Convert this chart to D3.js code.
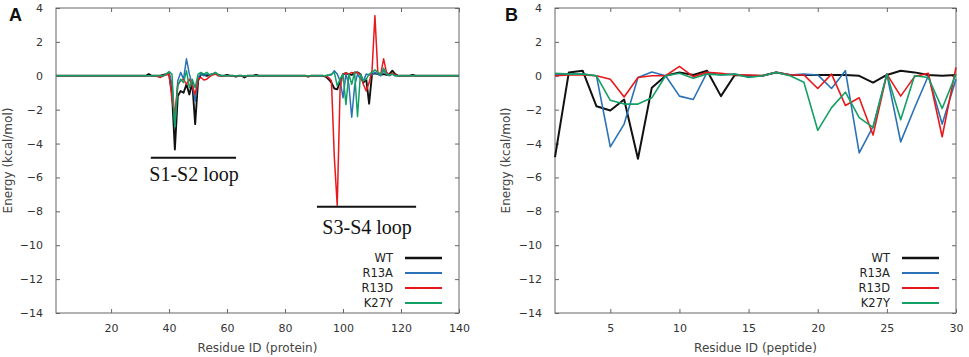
<!DOCTYPE html>
<html>
<head lang="en">
  <meta charset="UTF-8">
  <title>Per-residue energy decomposition</title>
</head>
<style>
  body { margin: 0; background: #fff; }
  svg text { font-family: "DejaVu Sans", sans-serif; }
  .frame { fill: none; stroke: #666; stroke-width: 1; }
  .axis path { display: none; }
  .axis line { stroke: #666; }
  .axis text { fill: #333; font-size: 11px; }
</style>
<body>

<svg id="chart" width="969" height="357"></svg>

<script src="https://cdn.jsdelivr.net/npm/d3@7"></script>
<script>
  // Series names + colours
  var seriesNames  = ['WT', 'R13A', 'R13D', 'K27Y'];
  var seriesColors = ['#111111', '#2a72b5', '#e8191c', '#13a064'];

  // Panel A: protein residues 1..140 (kcal/mol)
  var residuesA = d3.range(1, 141);
  var wtA = [
    0,0,0,0,0,0,0,0,0,0,
    0,0,0,0,0,0,0,0,0,0,
    0,0,0,0,0,0,0,0,0,0,
    0,0,0.1,0,0,0,0,0.05,0.1,0.1,
    -1.0,-4.35,-1.2,-0.9,-1.0,-0.5,-1.1,-0.4,-2.85,-0.3,
    0.1,0.05,0,0.05,0.1,0.15,0.05,0,0,0.05,
    0,0,-0.05,0,0,-0.1,0,0,0,0.05,
    0,0,0,0,0,0,0,0,0,0,
    0,0,0,0,0,0,0,-0.05,0,0,
    0,0,0,-0.05,-0.2,-0.4,-0.75,-0.8,-0.3,0.1,
    0.15,0.1,0.05,0.2,0.2,0.1,-0.4,-0.2,-1.65,0.1,
    0.15,0.1,0.05,0.1,0.05,0.1,0.3,0.1,0,0,
    0,0,0,0.05,0,0,0,0,0,0,
    0,0,0,0,0,0,0,0,0,0
  ];
  var r13aA = [
    0,0,0,0,0,0,0,0,0,0,
    0,0,0,0,0,0,0,0,0,0,
    0,0,0,0,0,0,0,0,0,0,
    0,0,0,0,0,0,0,0,0.1,0.2,
    -0.5,-3.0,-0.3,0.2,-0.2,1.0,0.1,-0.5,-1.5,-0.1,
    0.1,0,0.1,0.05,0.1,0.15,0,0,0,0,
    0,0,0,0,0,0,0,0,0,0,
    0,0,0,0,0,0,0,0,0,0,
    0,0,0,0,0,0,0,0,0,0,
    0,0,0,0,0.05,0.05,0.3,0.1,-0.3,-1.3,
    0.1,-0.5,-2.45,-0.6,0.1,-0.2,-0.3,0.1,0.05,0.05,
    0.2,0.1,0,0.3,0.1,0,0.1,0,0,0,
    0,0,0,0,0,0,0,0,0,0,
    0,0,0,0,0,0,0,0,0,0
  ];
  var r13dA = [
    0,0,0,0,0,0,0,0,0,0,
    0,0,0,0,0,0,0,0,0,0,
    0,0,0,0,0,0,0,0,0,0,
    0,0,0,0,0,-0.05,-0.1,0,0.05,0.1,
    -1.4,-2.3,-0.5,-0.3,-0.2,-0.5,-0.2,-0.6,-1.1,-0.2,
    -0.1,-0.25,-0.2,-0.05,0.05,0.1,0,0,0,0,
    0,0,0,0,0,0,0,0,0,0,
    0,0,0,0,0,0,0,0,0,0,
    0,0,0,0,0,0,0,-0.05,0,0,
    0,0,0,0,-0.1,-0.3,-4.8,-7.65,-0.7,0.1,
    0.15,0.1,0.2,0.15,0.2,0.05,-0.5,-0.9,-0.4,0.3,
    3.55,0.2,0.1,1.0,0.2,0.05,0.15,0.05,0,0,
    0,0,0,0,0,0,0,0,0,0,
    0,0,0,0,0,0,0,0,0,0
  ];
  var k27yA = [
    0,0,0,0,0,0,0,0,0,0,
    0,0,0,0,0,0,0,0,0,0,
    0,0,0,0,0,0,0,0,0,0,
    0,0,0,0,0,0,0,0,0.1,0.25,
    0.1,-3.0,-0.6,-0.2,-0.4,0.3,-0.7,-0.2,-0.7,0.1,
    0.2,0.1,0.2,0.05,0.1,0.2,0.05,0,0,0,
    0,0,0,0,0,0,0,0,0,0,
    0,0,0,0,0,0,0,0,0,0,
    0,0,0,0,0,0,0,0,0,0,
    0,0,0,0,0.05,0.1,0.2,-0.6,-0.2,0.1,
    -1.7,0.1,-0.5,0.2,-2.4,0.1,-0.3,-0.2,0.1,0.2,
    0.35,0.2,0.05,0.45,0.1,0.05,0.1,0,0,0,
    0,0,0,0,0,0,0,0,0,0,
    0,0,0,0,0,0,0,0,0,0
  ];

  // Panel B: peptide residues 1..30
  var residuesB = d3.range(1, 31);
  var wtB   = [-4.8,0.2,0.3,-1.8,-2.05,-1.4,-4.9,-0.7,0,0.2,0.05,0.3,-1.2,0.05,0,0,0.2,0.05,0.05,0.05,0.05,0.05,0,-0.4,0.05,0.3,0.2,0.05,0,0.05];
  var r13aB = [0.1,0.1,0.1,0,-4.2,-2.85,-0.1,0.22,0,-1.2,-1.4,0.2,0.05,0.1,-0.05,0,0.2,0.05,0.1,0.05,-0.75,0.3,-4.55,-3.0,0.1,-3.9,-1.9,0,-2.85,-0.2];
  var r13dB = [0,0.05,0.05,0,-0.2,-1.25,-0.1,0,0,0.55,-0.05,0.2,0.15,0.05,0.05,0,0.2,0.05,0.05,-0.75,0.1,-1.75,-1.3,-3.5,0.1,-1.2,-0.05,0.15,-3.6,0.5];
  var k27yB = [0.15,0.1,0.1,0,-1.45,-1.67,-1.67,-1.3,0,0.15,-0.15,0.1,0.05,0.1,-0.1,0,0.2,0,-0.38,-3.22,-1.88,-0.97,-2.47,-3.05,0.1,-2.6,0,-0.1,-1.93,0.1];

  // Tick values
  var yTicks  = d3.range(-14, 5, 2);
  var xTicksA = [20, 40, 60, 80, 100, 120, 140];
  var xTicksB = [5, 10, 15, 20, 25, 30];

  // Panel A loop annotations (data units)
  var loopLabels = ['S1-S2 loop', 'S3-S4 loop'];
  var loopStart  = [33.7, 91.0];
  var loopEnd    = [63.1, 125.2];
  var loopBarY   = [-4.84, -7.73];
  var loopTextX  = [48.6, 108.3];
  var loopTextY  = [-6.2, -9.35];

  var svg = d3.select('#chart');

  var panels = [
    { tag: 'A', left: 56,  right: 459, xDomain: [1, 140], xTicks: xTicksA,
      residues: residuesA, values: [wtA, r13aA, r13dA, k27yA],
      xLabel: 'Residue ID (protein)', tagX: 9, yLabelX: 8, lw: 1.5 },
    { tag: 'B', left: 555, right: 956, xDomain: [1, 30], xTicks: xTicksB,
      residues: residuesB, values: [wtB, r13aB, r13dB, k27yB],
      xLabel: 'Residue ID (peptide)', tagX: 505, yLabelX: 506, lw: 1.6 }
  ];
  var plotTop = 8, plotBottom = 313;

  panels.forEach(drawPanel);

  function drawPanel(p) {
    var x = d3.scaleLinear().domain(p.xDomain).range([p.left, p.right]);
    var y = d3.scaleLinear().domain([-14, 4]).range([plotBottom, plotTop]);
    var g = svg.append('g');

    // ticks, all pointing inward (mirrored on top/right)
    g.append('g').attr('class', 'axis')
      .attr('transform', 'translate(0,' + plotBottom + ')')
      .call(d3.axisBottom(x).tickValues(p.xTicks).tickSizeInner(-4).tickSizeOuter(0).tickPadding(9))
      .selectAll('text').attr('dy', '0.9em');
    g.append('g').attr('class', 'axis')
      .attr('transform', 'translate(0,' + plotTop + ')')
      .call(d3.axisTop(x).tickValues(p.xTicks).tickSizeInner(-4).tickSizeOuter(0).tickFormat(''));
    g.append('g').attr('class', 'axis')
      .attr('transform', 'translate(' + p.left + ',0)')
      .call(d3.axisLeft(y).tickValues(yTicks).tickSizeInner(-4).tickSizeOuter(0).tickPadding(13));
    g.append('g').attr('class', 'axis')
      .attr('transform', 'translate(' + p.right + ',0)')
      .call(d3.axisRight(y).tickValues(yTicks).tickSizeInner(-4).tickSizeOuter(0).tickFormat(''));

    g.append('rect').attr('class', 'frame')
      .attr('x', p.left).attr('y', plotTop)
      .attr('width', p.right - p.left).attr('height', plotBottom - plotTop);

    // lines
    var line = d3.line()
      .x(function (d) { return x(d[0]); })
      .y(function (d) { return y(d[1]); });

    p.values.forEach(function (vals, k) {
      var pts = p.residues.map(function (r, i) { return [r, vals[i]]; });
      g.append('path')
        .attr('d', line(pts))
        .attr('fill', 'none')
        .attr('stroke', seriesColors[k])
        .attr('stroke-width', k === 0 ? p.lw + 0.4 : p.lw)
        .attr('stroke-linejoin', 'round');
    });

    // legend
    var legX = p.right - 66;
    seriesNames.forEach(function (name, k) {
      var ly = 258 + k * 15;
      g.append('text')
        .attr('x', legX).attr('y', ly)
        .attr('text-anchor', 'end').attr('dominant-baseline', 'central')
        .attr('fill', '#222').style('font-size', '11.5px')
        .text(name);
      g.append('line')
        .attr('x1', legX + 12).attr('x2', legX + 49)
        .attr('y1', ly).attr('y2', ly)
        .attr('stroke', seriesColors[k])
        .attr('stroke-width', k === 0 ? 2.6 : 1.8);
    });

    // axis titles
    g.append('text')
      .attr('x', (p.left + p.right) / 2).attr('y', 352)
      .attr('text-anchor', 'middle').attr('fill', '#444')
      .style('font-size', '12px')
      .text(p.xLabel);
    g.append('text')
      .attr('transform', 'translate(' + p.yLabelX + ',' + ((plotTop + plotBottom) / 2) + ') rotate(-90)')
      .attr('text-anchor', 'middle').attr('dominant-baseline', 'central')
      .attr('fill', '#444').style('font-size', '12px')
      .text('Energy (kcal/mol)');

    // panel tag
    g.append('text')
      .attr('x', p.tagX).attr('y', 21)
      .attr('fill', '#111')
      .style('font-family', '"Liberation Sans", Arial, sans-serif')
      .style('font-size', '18px').style('font-weight', 'bold')
      .text(p.tag);

    if (p.tag === 'A') {
      loopLabels.forEach(function (lbl, i) {
        g.append('line')
          .attr('x1', x(loopStart[i])).attr('x2', x(loopEnd[i]))
          .attr('y1', y(loopBarY[i])).attr('y2', y(loopBarY[i]))
          .attr('stroke', '#111').attr('stroke-width', 2);
        g.append('text')
          .attr('x', x(loopTextX[i])).attr('y', y(loopTextY[i]))
          .attr('text-anchor', 'middle').attr('fill', '#111')
          .style('font-family', '"Liberation Serif", "Times New Roman", serif')
          .style('font-size', '20px')
          .text(lbl);
      });
    }
  }
</script>
</body>
</html>
